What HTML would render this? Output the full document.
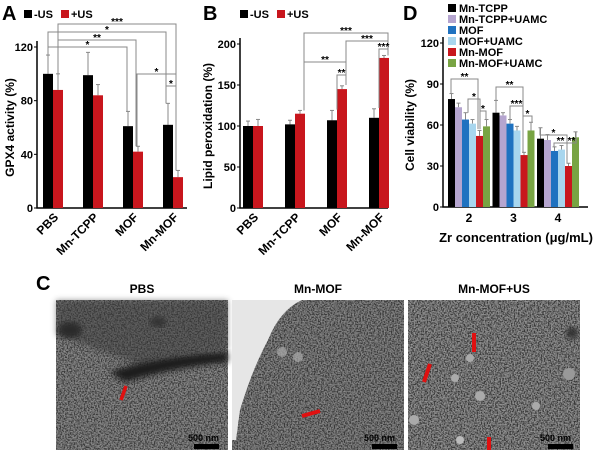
<!DOCTYPE html>
<html><head><meta charset="utf-8"><style>
body{margin:0;background:#fff;}
svg{display:block;font-family:"Liberation Sans",Arial,sans-serif;}
</style></head><body>
<svg id="fig" width="604" height="450" viewBox="0 0 604 450">
<defs>
<filter id="noise" x="0" y="0" width="100%" height="100%">
<feTurbulence type="fractalNoise" baseFrequency="0.7" numOctaves="2" seed="3"/>
<feColorMatrix type="matrix" values="2.2 0 0 0 -0.85  2.2 0 0 0 -0.85  2.2 0 0 0 -0.85  0 0 0 0 1"/>
</filter>
<filter id="blur"><feGaussianBlur stdDeviation="3"/></filter>
</defs>
<g id="panels"></g>
<g>
<text x="36" y="290" font-size="20" font-weight="bold">C</text>
<text x="142" y="293" font-size="12" font-weight="bold" text-anchor="middle">PBS</text>
<text x="318" y="293" font-size="12" font-weight="bold" text-anchor="middle">Mn-MOF</text>
<text x="494" y="293" font-size="12" font-weight="bold" text-anchor="middle">Mn-MOF+US</text>
<g>
<rect x="56" y="300" width="172" height="150" fill="#5e5e5e"/>
<rect x="56" y="300" width="172" height="150" filter="url(#noise)" opacity="0.35"/>
<path d="M56 300 H228 V350 Q180 352 140 365 Q100 350 56 335 Z" fill="#383838" opacity="0.5" filter="url(#blur)"/>
<path d="M110 372 Q160 355 228 352 L228 362 Q170 368 125 382 Z" fill="#1a1a1a" filter="url(#blur)"/>
<ellipse cx="70" cy="330" rx="12" ry="8" fill="#2a2a2a" filter="url(#blur)"/>
<ellipse cx="158" cy="322" rx="8" ry="5" fill="#333" filter="url(#blur)"/>
<path d="M126 386 L121 400" stroke="#e01010" stroke-width="3.5"/>
</g>
<g>
<rect x="232" y="300" width="172" height="150" fill="#5a5a5a"/>
<rect x="232" y="300" width="172" height="150" filter="url(#noise)" opacity="0.35"/>
<path d="M232 300 H302 Q280 310 268 340 Q252 370 240 410 L236 440 L232 440 Z" fill="#e6e6e6"/>
<circle cx="282" cy="352" r="5" fill="#aaa" opacity="0.7"/><circle cx="298" cy="357" r="5" fill="#aaa" opacity="0.7"/>
<path d="M302 416 L320 411" stroke="#e01010" stroke-width="4"/>
</g>
<g>
<rect x="408" y="300" width="172" height="150" fill="#626262"/>
<rect x="408" y="300" width="172" height="150" filter="url(#noise)" opacity="0.4"/>
<circle cx="480" cy="396" r="5" fill="#aaa"/><circle cx="455" cy="378" r="4" fill="#aaa"/><circle cx="569" cy="374" r="6" fill="#999"/><circle cx="414" cy="420" r="5" fill="#aaa"/><circle cx="470" cy="358" r="4" fill="#aaa"/><circle cx="460" cy="440" r="4" fill="#bbb"/><circle cx="536" cy="406" r="4" fill="#aaa"/>
<circle cx="572" cy="333" r="6" fill="#333" filter="url(#blur)"/>
<path d="M474 333 L474 352" stroke="#e01010" stroke-width="4"/>
<path d="M424 382 L430 364" stroke="#e01010" stroke-width="4"/>
<path d="M489 437 L489 458" stroke="#e01010" stroke-width="4"/>
</g>
<g font-size="9" font-weight="bold" fill="#000">
<text x="188" y="441">500 nm</text><rect x="194" y="444" width="25" height="5"/>
<text x="364" y="441">500 nm</text><rect x="372" y="444" width="25" height="5"/>
<text x="540" y="441">500 nm</text><rect x="548" y="444" width="25" height="5"/>
</g>
</g>
</svg>
<script>
const catsAB = ["PBS","Mn-TCPP","MOF","Mn-MOF"];
const aNeg = [100,99,61,62];
const aPos = [88,84,42,23];
const aNegErr = [14,17,11,16];
const aPosErr = [12,8,4,5];
const aTicks = [0,40,80,120];
const bNeg = [100,102,107,110];
const bPos = [100,115,145,183];
const bNegErr = [6,5,12,11];
const bPosErr = [8,4,4,3];
const bTicks = [0,50,100,150,200];
const dCats = ["2","3","4"];
const dSeries = ["Mn-TCPP","Mn-TCPP+UAMC","MOF","MOF+UAMC","Mn-MOF","Mn-MOF+UAMC"];
const dVals = [[79,73,64,61,52,59],[69,67,61,56,38,56],[50,49,41,42,30,51]];
const dErr = [[4,3,5,3,4,5],[9,2,3,3,2,6],[8,4,3,3,2,4]];
const dTicks = [0,30,60,90,120];
const dColors = ["#000000","#b5a5cf","#1f72c0","#a8d6ee","#c8161d","#78a443"];

const NS="http://www.w3.org/2000/svg";
const root=document.getElementById('panels');
function mk(tag,attrs,parent,txt){const e=document.createElementNS(NS,tag);for(const k in attrs)e.setAttribute(k,attrs[k]);if(txt!==undefined)e.textContent=txt;(parent||root).appendChild(e);return e;}

function barChart(o){
  const g=mk('g',{});
  
  
  const y=v=>o.y0-v*(o.y0-o.yTop)/o.yMax;
  const lab=mk('text',{x:o.labX,y:20,'font-size':20,'font-weight':'bold'},g,o.label);
  
  
  const ax=mk('path',{d:`M${o.x0} ${o.yTop-6} V${o.y0} H${o.xEnd}`,stroke:'#000','stroke-width':1.5,fill:'none'},g);
  
  
  o.ticks.forEach(t=>{
    mk('line',{x1:o.x0-3,x2:o.x0,y1:y(t),y2:y(t),stroke:'#000'},g);
    const tl=mk('text',{x:o.x0-4,y:y(t)+4,'font-size':11,'font-weight':'bold','text-anchor':'end'},g,t);
    
    
  });
  const yt=mk('text',{transform:`translate(${o.titleX},${(o.y0+o.yTop)/2}) rotate(-90)`,'font-size':12,'font-weight':'bold','text-anchor':'middle'},g,o.yTitle);
  
  
  o.groups.forEach((vals,gi)=>{
    vals.forEach((v,si)=>{
      const x=o.gx(gi)+si*o.bw;
      const e=o.errs[gi][si];
      mk('line',{x1:x+o.bw/2,x2:x+o.bw/2,y1:y(v),y2:y(v+e),stroke:'#888','stroke-width':1},g);
      mk('line',{x1:x+o.bw/2-2,x2:x+o.bw/2+2,y1:y(v+e),y2:y(v+e),stroke:'#888','stroke-width':1},g);
      const r=mk('rect',{x:x,y:y(v),width:o.bw,height:o.y0-y(v),fill:o.colors[si]},g);
      
      
    });
    const cx=o.gx(gi)+vals.length*o.bw/2;
    const t=o.rot?mk('text',{transform:`translate(${cx+6},${o.y0+10}) rotate(-45)`,'font-size':12,'font-weight':'bold','text-anchor':'end'},g,o.cats[gi])
      :mk('text',{x:cx,y:o.y0+15,'font-size':12,'font-weight':'bold','text-anchor':'middle'},g,o.cats[gi]);
    
    
  });
  return {g,y};
}
function legendAB(g,x){
  mk('rect',{x:x,y:10,width:8,height:8,fill:'#000'},g);
  const a=mk('text',{x:x+10,y:18,'font-size':11,'font-weight':'bold'},g,'-US');
  
  
  mk('rect',{x:x+37,y:10,width:8,height:8,fill:'#c8161d'},g);
  const b=mk('text',{x:x+47,y:18,'font-size':11,'font-weight':'bold'},g,'+US');
  
  
}
function bracket(g,x1,x2,yTop,y1,y2,txt){
  mk('path',{d:`M${x1} ${y1} V${yTop} H${x2} V${y2}`,stroke:'#888',fill:'none','stroke-width':1},g);
  const t=mk('text',{x:(x1+x2)/2,y:yTop+1,'font-size':10,'font-weight':'bold','text-anchor':'middle'},g,txt);
  
  
}

// Panel A
const A=barChart({name:'panel-a-gpx4-chart',label:'A',labX:2,x0:37,xEnd:187,y0:208,yTop:47,yMax:120,ticks:aTicks,
  titleX:14,yTitle:'GPX4 activity (%)',cats:catsAB,groups:aNeg.map((v,i)=>[v,aPos[i]]),errs:aNegErr.map((v,i)=>[v,aPosErr[i]]),
  colors:['#000','#c8161d'],bw:10,gx:i=>43+i*40,rot:true});
legendAB(A.g,24);
bracket(A.g,48,127,47,A.y(114),A.y(61+11),'*');
bracket(A.g,58,136,40,A.y(100),A.y(46),'**');
bracket(A.g,48,166,32,A.y(114),A.y(78),'*');
bracket(A.g,58,176,24,A.y(100),A.y(28),'***');
bracket(A.g,137,176,74,A.y(46),A.y(28),'*');
bracket(A.g,166,176,86,A.y(78),A.y(28),'*');

// Panel B
const B=barChart({name:'panel-b-lipid-chart',label:'B',labX:203,x0:240,xEnd:388,y0:208,yTop:44,yMax:200,ticks:bTicks,
  titleX:212,yTitle:'Lipid peroxidation (%)',cats:catsAB,groups:bNeg.map((v,i)=>[v,bPos[i]]),errs:bNegErr.map((v,i)=>[v,bPosErr[i]]),
  colors:['#000','#c8161d'],bw:10,gx:i=>243+i*42,rot:true});
legendAB(B.g,240);
bracket(B.g,304,346,62,B.y(119),B.y(150),'**');
bracket(B.g,337,346,75,B.y(120),B.y(150),'**');
bracket(B.g,304,388,33,B.y(119),B.y(186),'***');
bracket(B.g,346,388,41,B.y(150),B.y(186),'***');
bracket(B.g,379,388,49,B.y(122),B.y(186),'***');

// Panel D
const D=barChart({name:'panel-d-viability-chart',label:'D',labX:403,x0:443,xEnd:588,y0:207,yTop:43,yMax:120,ticks:dTicks,
  titleX:414,yTitle:'Cell viability (%)',cats:dCats,groups:dVals,errs:dErr,colors:dColors,bw:7,gx:i=>448+i*44.5,rot:false});
dSeries.forEach((s,i)=>{
  mk('rect',{x:448,y:4+i*11,width:8,height:8,fill:dColors[i]},D.g);
  const t=mk('text',{x:459,y:12+i*11,'font-size':11,'font-weight':'bold'},D.g,s);
  
  
});
const xt=mk('text',{x:516,y:242,'font-size':13,'font-weight':'bold','text-anchor':'middle'},D.g,'Zr concentration (μg/mL)');


bracket(D.g,451,478,79,D.y(83),D.y(57),'**');
bracket(D.g,468,480,99,D.y(69),D.y(57),'*');
bracket(D.g,480,486,111,D.y(57),D.y(64),'*');
bracket(D.g,496,523,87,D.y(78),D.y(40),'**');
bracket(D.g,510,523,106,D.y(64),D.y(40),'***');
bracket(D.g,523,532,116,D.y(40),D.y(62),'*');
bracket(D.g,540,567,135,D.y(58),D.y(32),'*');
bracket(D.g,554,567,143,D.y(44),D.y(32),'**');
bracket(D.g,567,576,143,D.y(32),D.y(55),'**');
</script>
</body></html>
